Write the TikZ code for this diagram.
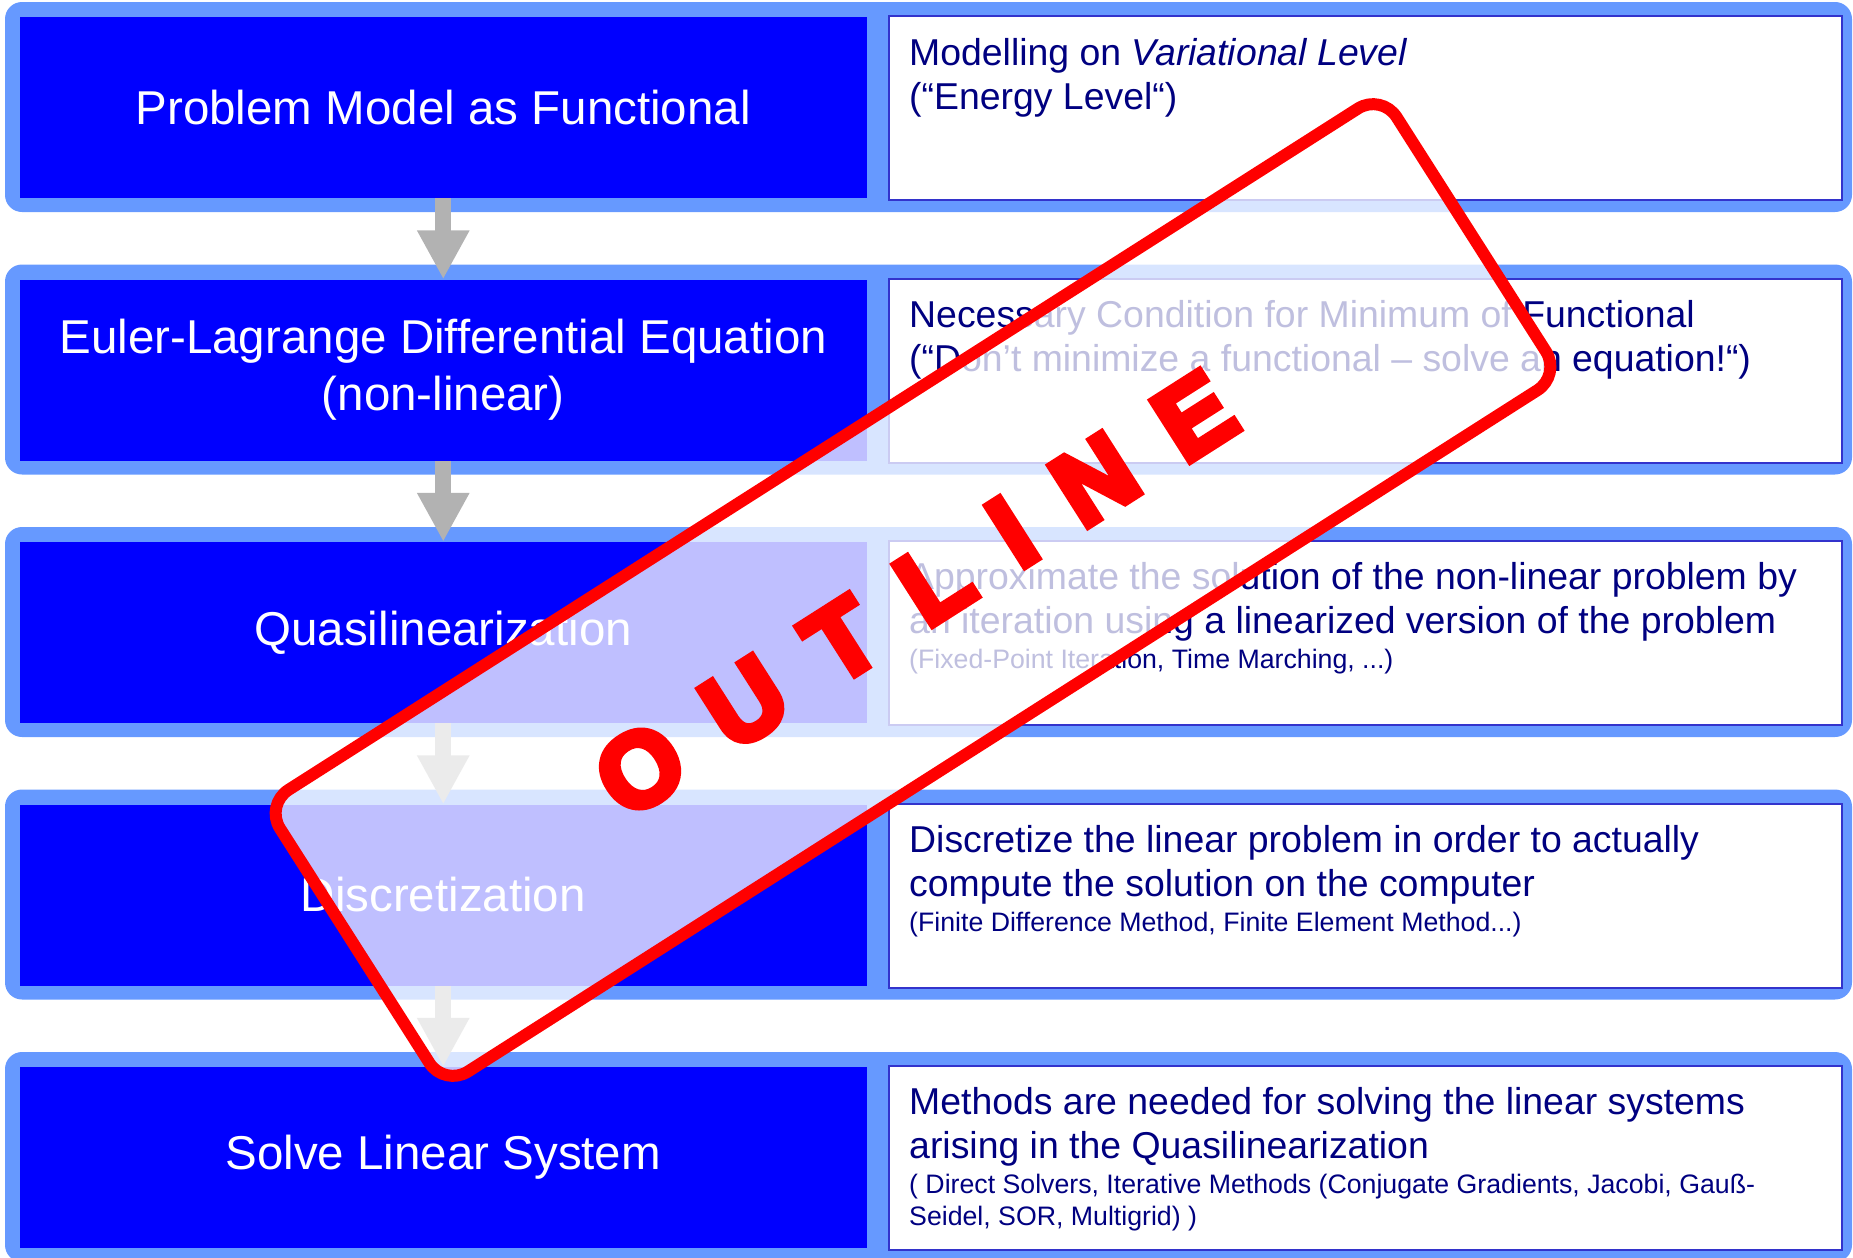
\documentclass[tikz,border=0pt]{standalone}
\usepackage{fontspec}
\setmainfont{Liberation Sans}
\newfontfamily\stampfont[BoldFeatures={FakeBold=7}]{Liberation Sans}
\usetikzlibrary{arrows.meta}

\definecolor{framecol}{HTML}{6699FF}
\definecolor{boxblue}{HTML}{0000FF}
\definecolor{edgeblue}{HTML}{3333CC}
\definecolor{navytext}{HTML}{000080}
\definecolor{arrowgray}{HTML}{B2B2B2}
\definecolor{stampred}{HTML}{FF0000}

\begin{document}
\begin{tikzpicture}[x=1pt, y=-1pt,
  frame/.style={fill=framecol, rounded corners=17pt, minimum width=1847pt, minimum height=210pt, inner sep=0pt},
  title box/.style={fill=boxblue, text=white, minimum width=847.5pt, minimum height=181pt, inner sep=0pt, align=center, font=\fontsize{47.5pt}{57pt}\selectfont},
  text box/.style={fill=white, draw=edgeblue, line width=2pt, minimum width=953pt, minimum height=184pt, inner sep=0pt},
  desc/.style={anchor=north west, inner sep=0pt, text=navytext, align=left, font=\fontsize{37.4pt}{44.5pt}\selectfont},
  note/.style={anchor=north west, inner sep=0pt, text=navytext, align=left, font=\fontsize{26.7pt}{32.5pt}\selectfont},
  flow/.style={color=arrowgray, line width=16pt, -{Triangle[width=49pt,length=49pt]}},
  stamp/.style={draw=stampred, line width=12pt, fill=white, fill opacity=0.75, draw opacity=1, rounded corners=28pt, minimum width=1324pt, minimum height=334pt, inner sep=0pt},
  stamp word/.style={text=stampred, inner sep=0pt, font=\stampfont\bfseries\fontsize{104pt}{104pt}\selectfont}]

  \useasboundingbox (0,0) rectangle (1853,1258);

  % rows
  \node[frame] (f1) at (928.5,107) {};
  \node[frame] (f2) at (928.5,369.5) {};
  \node[frame] (f3) at (928.5,632) {};
  \node[frame] (f4) at (928.5,894.5) {};
  \node[frame] (f5) at (928.5,1157) {};

  \node[text box] (w1) at (1365.5,108) {};
  \node[text box] (w2) at (1365.5,370.5) {};
  \node[text box] (w3) at (1365.5,633) {};
  \node[text box] (w4) at (1365.5,895.5) {};
  \node[text box] (w5) at (1365.5,1158) {};

  \node[title box] (b1) at (443.25,107.5) {Problem Model as Functional};
  \node[title box] (b2) at (443.25,370) {Euler-Lagrange Differential Equation\\(non-linear)};
  \node[title box] (b3) at (443.25,632.5) {Quasilinearization};
  \node[title box] (b4) at (443.25,895) {Discretization};
  \node[title box] (b5) at (443.25,1157.5) {Solve Linear System};

  % descriptions
  \node[desc] (d1) at (909,38) {Modelling on \textit{Variational Level}\\(“Energy Level“)};
  \node[desc] (d2) at (909,300) {Necessary Condition for Minimum of Functional\\(“Don’t minimize a functional – solve an equation!“)};
  \node[desc] (d3) at (909,562) {Approximate the solution of the non-linear problem by\\an iteration using a linearized version of the problem};
  \node[note] (n3) at (909,648.5) {(Fixed-Point Iteration, Time Marching, ...)};
  \node[desc] (d4) at (909,825) {Discretize the linear problem in order to actually\\compute the solution on the computer};
  \node[note] (n4) at (909,911.5) {(Finite Difference Method, Finite Element Method...)};
  \node[desc] (d5) at (909,1087) {Methods are needed for solving the linear systems\\arising in the Quasilinearization};
  \node[note] (n5) at (909,1173.5) {( Direct Solvers, Iterative Methods (Conjugate Gradients, Jacobi, Gauß-\\Seidel, SOR, Multigrid) )};

  \path
  (b1) [flow] edge (b2)
  (b2) [flow] edge (b3)
  (b3) [flow] edge (b4)
  (b4) [flow] edge (b5);

  % stamp on top
  \node[stamp, rotate=32.5] (stamp) at (913,590) {};
  \node[stamp word, rotate=32.5] (word) at (915,594) {O\hspace{46pt}U\hspace{46pt}T\hspace{46pt}L\hspace{46pt}I\hspace{46pt}N\hspace{46pt}E};
\end{tikzpicture}
\end{document}
